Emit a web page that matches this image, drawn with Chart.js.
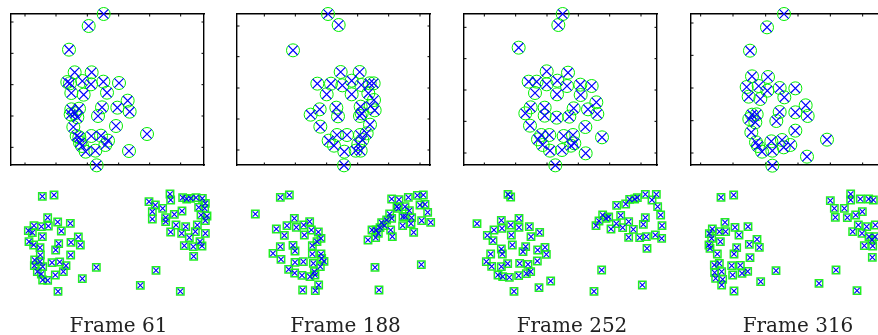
<!DOCTYPE html>
<html>
<head>
<script src="https://cdn.jsdelivr.net/npm/chart.js@4.4.0/dist/chart.umd.min.js"></script>
<style>
  body { margin: 0; width: 878px; height: 335px; overflow: hidden; background: #fff; position: relative; }
  .cv { position: absolute; }
  .label {
    position: absolute; width: 200px; text-align: center;
    font-family: "DejaVu Serif", serif; font-size: 20px; line-height: 20px; color: #222;
  }
</style>
</head>
<body>
<script>
// frame titles
const frames = ["Frame 61", "Frame 188", "Frame 252", "Frame 316"];

// tracked positions, upper view (x right, y down)
const top61 = [[311,42],[266,78],[207,149],[224,217],[275,217],[202,246],[210,250],[247,243],[273,253],[310,245],[357,249],[214,279],[251,284],[321,278],[383,302],[214,328],[237,326],[306,322],[352,323],[389,335],[212,343],[232,352],[225,340],[294,348],[348,378],[220,381],[230,408],[238,412],[274,408],[303,407],[324,422],[441,402],[246,438],[257,455],[286,452],[316,435],[387,453],[290,496],[240,428]];
const top188 = [[309,42],[341,75],[204,151],[347,216],[404,216],[277,251],[318,251],[352,256],[380,242],[409,255],[434,250],[446,250],[305,283],[380,283],[430,280],[447,300],[284,328],[257,344],[334,323],[339,349],[407,320],[437,318],[449,331],[405,348],[410,340],[435,374],[286,380],[336,405],[366,405],[311,422],[327,437],[405,405],[425,400],[412,420],[358,455],[392,452],[407,452],[400,432],[357,496]];
const top252 = [[332,42],[319,75],[200,143],[284,214],[348,218],[230,245],[254,245],[284,253],[316,242],[345,258],[385,254],[419,258],[249,279],[315,283],[386,285],[236,322],[220,340],[278,323],[278,347],[314,353],[365,325],[352,350],[408,328],[433,307],[436,342],[234,377],[400,381],[268,405],[292,405],[258,418],[272,435],[335,408],[363,405],[367,430],[357,437],[294,452],[330,450],[401,460],[450,412],[310,496]];
const top316 = [[312,42],[261,82],[210,152],[216,229],[264,231],[200,261],[206,290],[236,258],[262,272],[241,297],[299,264],[313,292],[346,265],[377,316],[346,337],[383,348],[299,336],[289,363],[216,344],[230,343],[208,357],[226,367],[346,392],[214,397],[228,427],[234,438],[246,455],[274,424],[277,452],[306,420],[311,442],[331,435],[441,419],[381,470],[277,497]];

// tracked positions, lower view
const bot61 = [[127,64],[162,60],[143,128],[173,141],[211,145],[102,152],[124,155],[145,153],[85,167],[97,173],[184,168],[127,185],[235,186],[87,200],[101,210],[176,206],[213,202],[241,210],[120,218],[167,225],[121,240],[212,240],[104,255],[103,272],[128,275],[156,263],[179,261],[198,272],[112,290],[124,297],[190,290],[166,300],[128,315],[143,316],[247,311],[289,277],[174,349],[120,260],
  [510,57],[512,75],[447,80],[466,90],[488,100],[457,110],[457,132],[497,128],[497,140],[523,118],[546,108],[548,68],[572,70],[588,68],[607,70],[616,85],[596,97],[614,100],[621,123],[616,137],[592,150],[528,150],[557,155],[512,171],[545,175],[586,170],[616,175],[568,188],[600,200],[553,212],[580,215],[606,213],[581,244],[468,286],[421,331],[541,349],[560,72],[603,120]];
const bot188 = [[166,67],[193,60],[91,117],[208,130],[154,162],[186,152],[214,157],[236,150],[254,140],[178,181],[238,180],[259,165],[280,171],[288,190],[276,200],[262,212],[166,215],[204,211],[210,228],[144,235],[168,253],[262,237],[288,237],[290,250],[210,262],[235,260],[265,265],[297,259],[286,275],[191,283],[209,294],[231,301],[255,305],[270,300],[281,330],[233,345],[271,347],[268,290],
  [500,72],[522,74],[550,67],[577,61],[595,60],[600,88],[608,112],[516,95],[540,95],[553,107],[494,117],[500,130],[534,125],[541,125],[560,128],[590,137],[617,142],[533,152],[558,146],[566,172],[485,135],[478,152],[465,158],[453,165],[441,165],[429,195],[452,188],[497,165],[502,185],[460,175],[585,90],[450,277],[462,345],[589,269],[520,100],[470,143]];
const bot252 = [[168,58],[176,66],[75,146],[148,136],[201,130],[126,165],[150,160],[176,150],[201,157],[232,155],[263,172],[106,181],[123,197],[178,180],[237,185],[181,210],[148,222],[151,237],[116,237],[213,230],[221,215],[257,225],[279,217],[283,238],[103,260],[119,274],[148,275],[167,266],[203,265],[228,268],[256,258],[138,300],[152,305],[172,307],[200,302],[223,296],[236,290],[186,349],[261,338],[296,318],
  [494,91],[521,87],[533,73],[556,68],[580,58],[613,58],[600,75],[617,95],[626,120],[630,152],[629,190],[610,180],[583,185],[563,188],[530,187],[544,163],[512,158],[477,162],[432,152],[441,138],[452,120],[470,126],[506,121],[530,140],[493,146],[580,128],[574,148],[585,220],[449,285],[426,349],[571,330],[462,130],[548,72]];
const bot316 = [[123,67],[161,60],[135,142],[165,157],[204,155],[97,162],[118,170],[88,176],[137,170],[177,180],[95,190],[121,200],[87,210],[90,220],[231,193],[208,208],[238,217],[170,218],[162,237],[112,237],[210,248],[103,270],[118,265],[155,272],[181,271],[203,289],[186,295],[104,293],[125,290],[158,300],[107,310],[128,313],[125,330],[242,320],[288,287],[162,348],
  [451,77],[463,100],[466,127],[493,100],[512,57],[512,75],[541,72],[566,72],[580,75],[502,128],[527,120],[547,110],[535,150],[560,155],[586,150],[518,170],[546,175],[567,185],[576,195],[585,185],[553,212],[578,213],[577,247],[468,285],[417,325],[531,347]];

// axis tick values of the upper boxes
const xTicks61 = [75,168,262,356,449,542], yTicks61 = [66,160,254,348,442];
const xTicks188 = [118,211,305,398,491,585], yTicks188 = [78,170,264,357,450];
const xTicks252 = [97,191,285,379,473,567], yTicks252 = [82,176,270,364,459];
const xTicks316 = [62,159,257,354,451,548], yTicks316 = [69,166,264,362,459];

const tops = [top61, top188, top252, top316];
const bots = [bot61, bot188, bot252, bot316];
const xTicks = [xTicks61, xTicks188, xTicks252, xTicks316];
const yTicks = [yTicks61, yTicks188, yTicks252, yTicks316];

// page layout
const panelX = [0, 225, 452, 680];
const boxLeft = [11, 237, 464, 691];
const BOX_W = 193, BOX_H = 151, BOX_TOP = 14, BOT_TOP = 175, BOT_H = 130, PAD = 12;
const labelCx = [118.5, 345.5, 572, 798];

const innerTicks = {
  id: 'innerTicks',
  beforeDatasetsDraw(chart, args, opts) {
    if (!opts.on) return;
    const {ctx, chartArea: a, scales} = chart;
    const len = 2.5;
    ctx.save();
    ctx.strokeStyle = '#000';
    ctx.lineWidth = 1;
    ctx.beginPath();
    scales.x.ticks.forEach(t => {
      const p = scales.x.getPixelForValue(t.value);
      ctx.moveTo(p, a.bottom); ctx.lineTo(p, a.bottom - len);
      ctx.moveTo(p, a.top); ctx.lineTo(p, a.top + len);
    });
    scales.y.ticks.forEach(t => {
      const p = scales.y.getPixelForValue(t.value);
      ctx.moveTo(a.left, p); ctx.lineTo(a.left + len, p);
      ctx.moveTo(a.right, p); ctx.lineTo(a.right - len, p);
    });
    ctx.stroke();
    ctx.restore();
  }
};

function axis(pos, min, max, show, reverse, tickVals) {
  return {
    type: 'linear', position: pos, min: min, max: max, reverse: !!reverse,
    display: show,
    ticks: { display: false },
    grid: { display: show, drawOnChartArea: false, drawTicks: false },
    border: { display: show, color: '#000', width: 1.4 },
    afterBuildTicks: tickVals ? (s => { s.ticks = tickVals.map(v => ({ value: v })); }) : undefined
  };
}

function makeChart(left, topPx, w, h, datasets, scales, ticksOn) {
  const c = document.createElement('canvas');
  c.className = 'cv';
  c.width = w + 2 * PAD; c.height = h + 2 * PAD;
  c.style.left = (left - PAD) + 'px';
  c.style.top = (topPx - PAD) + 'px';
  document.body.appendChild(c);
  return new Chart(c, {
    type: 'scatter',
    data: { datasets: datasets },
    options: {
      responsive: false, animation: false, events: [],
      layout: { padding: PAD },
      scales: scales,
      plugins: { legend: { display: false }, tooltip: { enabled: false }, innerTicks: { on: ticksOn } }
    },
    plugins: [innerTicks]
  });
}

for (let i = 0; i < 4; i++) {
  const xmin = (boxLeft[i] - panelX[i]) * 3, xmax = xmin + BOX_W * 3;

  // upper view: boxed, circles + crosses
  makeChart(boxLeft[i], BOX_TOP, BOX_W, BOX_H, [
    { data: tops[i], pointStyle: 'crossRot', pointRadius: 6.6, borderColor: '#0000ff', borderWidth: 1.2, backgroundColor: 'transparent', clip: false },
    { data: tops[i], pointStyle: 'circle', pointRadius: 6.5, borderColor: '#00ee00', borderWidth: 1, backgroundColor: 'transparent', clip: false }
  ], {
    x: axis('bottom', xmin, xmax, true, false, xTicks[i]),
    x2: axis('top', xmin, xmax, true, false, []),
    y: axis('left', 42, 42 + BOX_H * 3, true, true, yTicks[i]),
    y2: axis('right', 42, 42 + BOX_H * 3, true, true, [])
  }, true);

  // lower view: no axes, squares + crosses
  makeChart(boxLeft[i], BOT_TOP, BOX_W, BOT_H, [
    { data: bots[i], pointStyle: 'crossRot', pointRadius: 3.8, borderColor: '#0000ff', borderWidth: 1.1, backgroundColor: 'transparent', clip: false },
    { data: bots[i], pointStyle: 'rect', pointRadius: 5.2, borderColor: '#22ee22', borderWidth: 1.5, backgroundColor: 'transparent', clip: false }
  ], {
    x: axis('bottom', xmin, xmax, false, false, null),
    y: axis('left', 0, BOT_H * 3, false, true, null)
  }, false);

  const lab = document.createElement('div');
  lab.className = 'label';
  lab.textContent = frames[i];
  lab.style.left = (labelCx[i] - 100) + 'px';
  lab.style.top = '315px';
  document.body.appendChild(lab);
}
</script>
</body>
</html>
